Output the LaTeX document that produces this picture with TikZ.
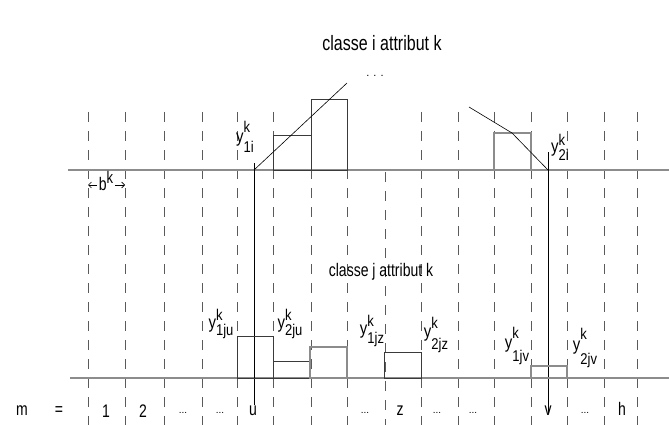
\documentclass[tikz,border=0pt]{standalone}
\usepackage{fontspec}
\usepackage{graphicx}
\setmainfont{Liberation Sans}
\usetikzlibrary{arrows.meta}
\definecolor{axisGray}{HTML}{8C8C8C}
\definecolor{dashGray}{HTML}{5A5A5A}
\definecolor{barInk}  {HTML}{3A3A3A}
\newcommand{\tall}[1]{\scalebox{1}[1.3]{#1}}
\newcommand{\scr}{\fontsize{13}{14}\selectfont}
% y^k_{sub}: #1 = raise of k, #2 = drop of sub (pt)
\newcommand{\ylab}[3]{\scalebox{1}[1.2]{\fontsize{15}{16}\selectfont
  y\rlap{\raisebox{#1pt}{\scr k}}\raisebox{-#2pt}{\scr #3}}}

\begin{document}
\begin{tikzpicture}[
  x=1pt,y=-1pt,
  font=\fontsize{14}{16}\selectfont,
  >={Straight Barb[length=3pt]},
  lbl/.style={inner sep=0pt},
  dots/.style={inner sep=0pt,font=\fontsize{10}{12}\selectfont},
  axis/.style={draw=axisGray,line width=1.4pt},
  grid/.style={draw=dashGray,line width=0.9pt,dash pattern=on 10pt off 9pt},
  bar/.style={draw=barInk,line width=0.9pt},
  barG/.style={draw=axisGray,line width=1.2pt},
  guide/.style={draw=black,line width=0.8pt},
  slope/.style={draw=black,line width=0.6pt},
]
\useasboundingbox (0,0) rectangle (669,425);

% ---- dashed class boundaries ---------------------------------------------
\foreach \gx in {88,125,164,202,237,273,311,347,421,458,494,531,567,604,637}
  \draw[grid] (\gx,112) -- (\gx,425);
\draw[grid] (385,172) -- (385,425);

% ---- the two axes ----------------------------------------------------------
\draw[axis] (68,170) -- (669,170);
\draw[axis] (70,378) -- (669,378);

% ---- classe i (top) ---------------------------------------------------------
\draw[bar]  (273,170) rectangle (311,135);
\draw[bar]  (311,170) rectangle (347,99);
\draw[barG] (494,170) rectangle (531,133);
\draw[slope] (254,170) -- (347,83);
\draw[slope] (469,107) -- (512,133) -- (548,170);

\node[font=\fontsize{16}{18}\selectfont] (ti) at (382,43) {\tall{classe i attribut k}};
\node[dots,font=\fontsize{11}{12}\selectfont] (tdots) at (375,76) {. . .};
\node[lbl] (y1i) at (245,137) {\ylab{8}{9}{1i}};
\node[lbl] (y2i) at (560,147) {\ylab{6.5}{6}{2i}};

% ---- u and v markers -------------------------------------------------------
\draw[guide] (254,163) -- (254,405);
\draw[guide] (548,152) -- (548,413);

% ---- classe j (bottom) ------------------------------------------------------
\draw[bar]  (237,378) rectangle (273,336);
\draw[bar]  (273,378) rectangle (310,361);
\draw[barG] (310,378) rectangle (347,347);
\draw[bar]  (384,378) rectangle (421,352);
\draw[barG] (531,378) rectangle (567,366);

\node (tj) at (381,272) {\tall{classe j attribut k}};
\node[lbl] (y1ju) at (221,324) {\ylab{6.5}{6}{1ju}};
\node[lbl] (y2ju) at (290,324) {\ylab{6.5}{6}{2ju}};
\node[lbl] (y1jz) at (372,331) {\ylab{7}{7.5}{1jz}};
\node[lbl] (y2jz) at (436,335) {\ylab{8}{9.8}{2jz}};
\node[lbl] (y1jv) at (517,346) {\ylab{8}{10.6}{1jv}};
\node[lbl] (y2jv) at (585,348) {\ylab{9}{12}{2jv}};

% ---- bin width --------------------------------------------------------------
\node[inner sep=1.5pt,anchor=base] (bk) at (106,190)
  {\tall{b\raisebox{5pt}{\scr k}}};
\coordinate (bL) at (88,185);
\coordinate (bR) at (125,185);
\draw[->,line width=0.6pt] ([yshift=5pt]bk.base west) -- (bL);
\draw[->,line width=0.6pt] ([yshift=5pt]bk.base east) -- (bR);

% ---- bin index row ----------------------------------------------------------
\node (m)   at (22,411)  {\tall{m}};
\node (eq)  at (59,411)  {\tall{=}};
\node (m1)  at (106,411) {\tall{1}};
\node (m2)  at (143,411) {\tall{2}};
\node[dots] (d1) at (183,413) {...};
\node[dots] (d2) at (220,413) {...};
\node (mu)  at (253,411) {\tall{u}};
\node[dots] (d3) at (365,413) {...};
\node (mz)  at (400,411) {\tall{z}};
\node[dots] (d4) at (437,413) {...};
\node[dots] (d5) at (473,413) {...};
\node (mv)  at (548,411) {\tall{v}};
\node[dots] (d6) at (585,413) {...};
\node (mh)  at (622,409) {\tall{h}};

\end{tikzpicture}
\end{document}
